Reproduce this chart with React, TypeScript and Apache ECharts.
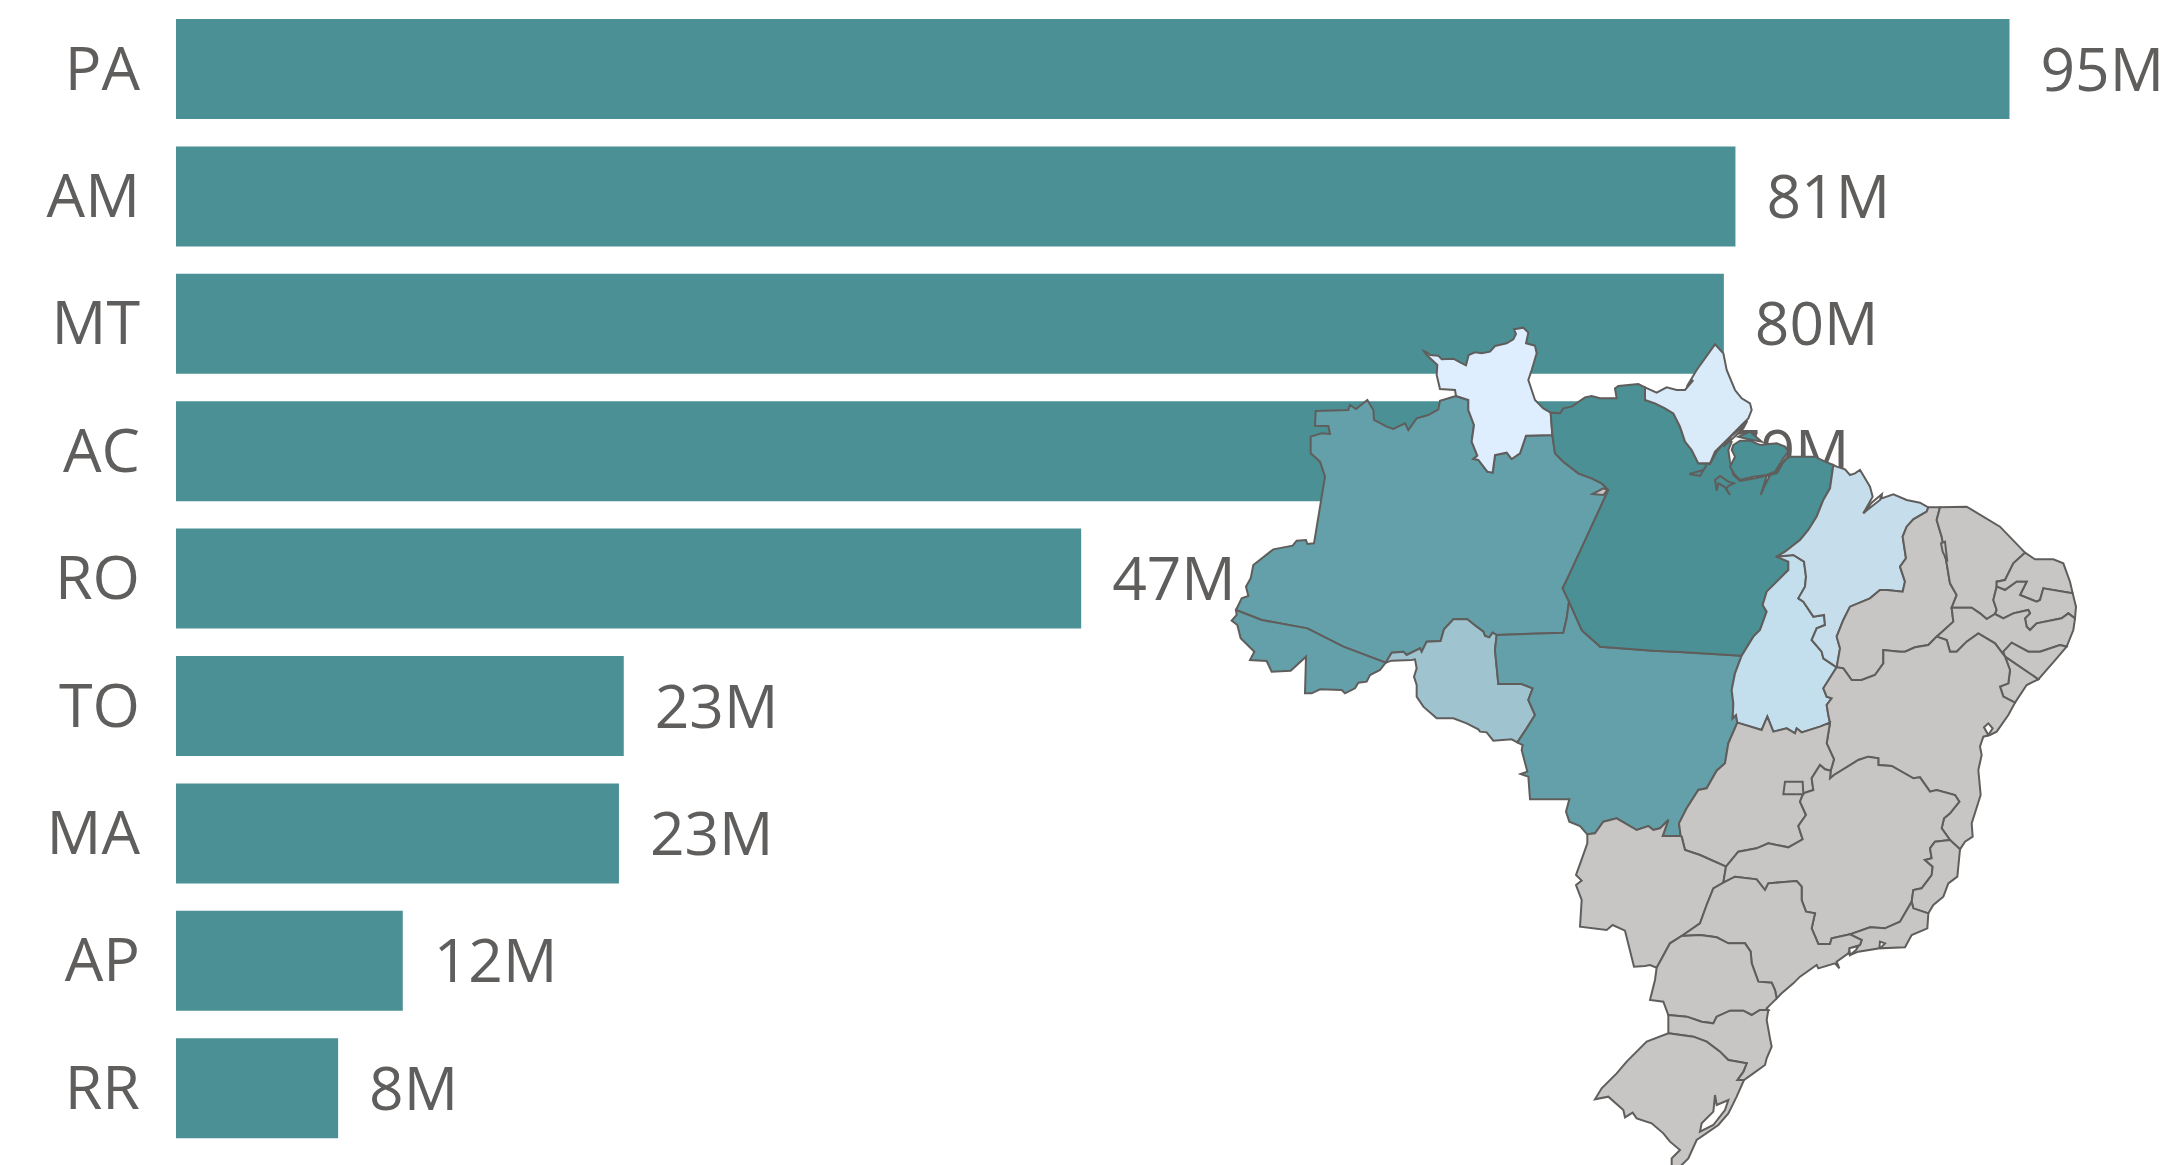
import React, { useEffect, useRef } from "react";
import * as echarts from "echarts";

const categories = ["PA", "AM", "MT", "AC", "RO", "TO", "MA", "AP", "RR"];
const values = [95, 80.8, 80.2, 78.7, 46.9, 23.2, 22.95, 11.75, 8.4];
const stateColors: Record<string, string> = {
  PA: "#4A9095", AM: "#64A0A9", MT: "#64A0A9", AC: "#64A0A9", RO: "#9FC3CF",
  TO: "#C3DFEE", MA: "#C6DEEC", AP: "#D9EAF9", RR: "#DEEEFF",
};
const TEXT = "#605E5C";
const BAR = "#4A9095";
const GREY = "#C8C6C4";
const FONT = "'Open Sans'";

type Pt = [number, number];
// Traced outlines; each run of points is in the coordinates of one crop of the picture.
const F1: Pt = [1220, 310], F2: Pt = [1680, 310], F3: Pt = [1480, 700], F5: Pt = [1800, 640], F6: Pt = [1660, 400];
const p = (f: Pt, s: string): Pt[] =>
  s.trim().split(/\s+/).map((q) => {
    const [x, y] = q.split(",").map(Number);
    return [f[0] + x / 3, f[1] + y / 3] as Pt;
  });

const arcs: Record<string, Pt[]> = {
  rrN: p(F1, "708,258 705,240 660,237 650,195 652,165 620,135 612,124 622,128 630,135 655,137 665,148 700,146 722,158 738,166 746,135 765,127 785,130 810,125 825,108 860,100 880,88 888,72 882,58 910,53 925,68 918,100 945,107 950,130 935,180 925,210 935,240 945,270 970,295 992,308"),
  rrPa: p(F1, "992,308 997,375"),
  rrAm: p(F1, "997,375 918,377 900,430 875,447 860,428 825,435 818,488 802,485 775,450 760,447 772,437 755,395 762,345 745,300 745,270 708,258"),
  amNW: p(F1, "708,258 660,272 655,298 625,315 590,325 565,360 555,340 520,357 500,350 462,330 460,300 442,270 408,297 390,285 385,300 287,303 285,347 325,348 330,372 305,370 272,380 272,430 300,455 315,500 282,700 262,702 258,690 230,692 218,707 160,718 100,765 92,805 78,830 85,858 65,865 48,900"),
  amAc: p(F1, "48,900 125,930 262,955 370,1010 497,1058"),
  acOut: p(F1, "48,900 50,915 35,932 52,945 62,985 103,1025 90,1050 140,1053 155,1085 212,1082 258,1040 255,1150 275,1150 300,1138 365,1140 375,1150 405,1135 415,1118 440,1115 450,1095 480,1080 497,1058"),
  amRo: p(F1, "497,1058 515,1028 550,1025 560,1035 600,1015 605,1025 620,995 662,993 672,958 700,928 742,928 770,950 790,965 795,978 808,982 818,968 830,975"),
  amMt: p(F1, "830,975 1030,968 1040,925 1047,875"),
  amPa: p(F1, "1047,875 1028,835 1045,800 1165,540 1145,520 1115,505 1075,490 1030,455 1005,430 997,375"),
  roMt: [...p(F1, "830,975 825,1020 835,1122 905,1122 938,1135 925,1170 945,1215 918,1258"), ...p(F3, "112,127")],
  roS: [...p(F1, "497,1058 515,1052 575,1050 585,1048 590,1075 582,1100 590,1125 590,1160 610,1190 650,1225 700,1225 740,1240 775,1258"), ...p(F3, "0,95 20,97 40,122 95,118 112,127")],
  paMt: [...p(F1, "1047,875 1085,960 1090,965 1135,1005 1140,1010 1300,1022"), ...p(F2, "0,1026 185,1037")],
  mtTo: [...p(F2, "185,1037 165,1090 155,1140 160,1180 158,1225"), ...p(F3, "768,45 772,68")],
  mtGo: p(F3, "772,68 745,130 735,190 710,212 680,265 655,270 620,325 597,370 602,408"),
  mtMs: p(F3, "602,408 548,408 565,360 540,385 520,390 505,378 470,390 410,355 370,365 345,400 322,403"),
  mtW: p(F3, "322,403 300,378 268,365 258,335 268,298 150,298 145,230 122,222 142,215 125,150 128,135 112,127"),
  msOut: p(F3, "322,403 322,430 305,478 288,525 305,542 288,555 305,600 300,680 380,690 398,675 435,692 462,800 495,798 510,795 530,803"),
  msPr: p(F3, "530,803 548,770 570,730 605,708"),
  msSp: p(F3, "605,708 660,670 680,615 700,565 730,548"),
  msMg: p(F3, "730,548 738,500"),
  msGo: p(F3, "738,500 660,465 615,450 605,410 602,408"),
  goMg: p(F3, "738,500 775,455 830,445 865,430 925,442 968,418 955,378 978,345 960,305 970,280 1000,270 995,235 1020,195 1035,208 1052,212"),
  goBa: p(F3, "1052,212 1062,178 1040,130 1050,68"),
  goTo: p(F3, "1050,68 1020,80 965,97 950,85 945,100 920,85 880,95 862,50 845,90 772,68"),
  mgBa: [...p(F3, "1052,212 1050,235 1062,225 1135,180 1165,170 1195,175 1195,195 1235,198 1300,235 1320,232 1350,275 1370,270 1425,285"), ...p(F5, "478,485 450,520 432,535 425,565 450,600")],
  mgEs: p(F5, "450,600 405,605 390,625 395,655 375,660 398,680 395,705 365,745 340,750 335,785"),
  mgRj: p(F5, "335,785 300,845 255,865 210,862 150,883"),
  mgSp: [...p(F3, "730,548 765,530 830,538 855,570 865,550 950,543 965,560 965,600 978,635 1005,640 995,685 1015,732 1050,732 1055,715"), ...p(F5, "150,883")],
  esRj: p(F5, "335,785 340,805 385,820"),
  esBa: p(F5, "450,600 480,628"),
  esCoast: p(F5, "480,628 472,710 445,730 430,770 400,795 385,820"),
  rjCoast: p(F5, "385,820 382,865 335,885 315,922 240,925 255,910 240,905 238,925 175,935 150,945 145,940"),
  spRj: p(F5, "150,883 185,900 180,915 150,925 145,940"),
  spCoast: [...p(F5, "145,940 110,965 118,985 105,970 55,985 50,975 0,1010"), ...p(F3, "940,850 905,880 890,895")],
  spPr: p(F3, "605,708 660,705 710,712 745,730 795,730 812,755 815,790 835,845 875,848 885,870 890,895"),
  prCoast: p(F3, "890,895 875,910 860,925 865,930"),
  prSc: p(F3, "865,930 840,930 815,945 790,932 750,932 710,950 700,970 665,965 620,950 565,945"),
  prW: p(F3, "565,945 550,905 510,900 525,840 530,803"),
  scW: p(F3, "565,945 565,1000"),
  scRs: p(F3, "565,1000 640,1010 680,1025 720,1055 745,1080 800,1090 790,1115 772,1140 792,1140"),
  scCoast: p(F3, "792,1140 820,1120 855,1095 860,1075 875,1040 870,1015 860,960 865,930"),
  rsOut: p(F3, "792,1140 770,1190 745,1240 715,1275 650,1320 625,1375 600,1400 575,1400 575,1375 600,1350 570,1325 550,1300 515,1270 470,1255 458,1238 435,1252 430,1230 385,1190 345,1198 365,1165 410,1120 440,1085 500,1025 565,1000"),
  toMa: p(F2, "290,740 340,735 372,755 378,800 375,830 355,865 370,875 400,920 432,915 435,945 410,955 395,990 425,1025 430,1045 470,1072"),
  toBa: p(F2, "470,1072 430,1135 440,1160 455,1165 440,1185 445,1215 450,1238"),
  toPa: p(F2, "290,740 325,755 325,780 300,805 260,845 248,885 260,905 240,960 220,980 185,1037"),
  paMa: p(F2, "290,740 315,725 360,690 385,660 410,620 430,570 450,535 460,465"),
  maCoast: p(F2, "460,465 470,470 495,478 510,495 525,490 540,480 555,505 570,530 578,560 550,610 575,580 605,555 605,565 640,553 680,570 720,578 745,592"),
  maPi: p(F2, "745,592 740,605 700,628 680,650 668,680 678,745 660,770 675,815 668,845 620,840 600,840 570,865 510,890 490,930 470,980 480,1015 470,1072"),
  piCoast: p(F2, "745,592 780,592"),
  piCe: p(F2, "780,592 770,630 785,680 800,760 810,820 830,855 815,893"),
  piPe: p(F2, "815,893 820,935 770,980"),
  piBa: p(F2, "470,1072 490,1075 515,1110 545,1110 585,1095 610,1060 610,1020 660,1025 675,1025 705,1012 745,1005 770,980"),
  peBa: p(F2, "770,980 800,990 810,1025 830,1025 860,995 895,970 945,1000 975,1040"),
  peCe: p(F2, "815,893 875,893 900,910 920,927 945,912"),
  pePb: p(F2, "945,912 970,925 1000,910 1045,900 1050,910 1035,925 1040,950 1050,960 1070,940 1145,925 1165,910 1185,925"),
  peCoast: p(F2, "1185,925 1180,960 1160,1010"),
  peAl: p(F2, "1160,1010 1140,1005 1080,1025 1045,1025 995,998 970,1025 975,1040"),
  alCoast: p(F2, "1160,1010 1130,1045 1075,1108"),
  alSe: p(F2, "975,1040 1075,1108"),
  seCoast: p(F2, "1075,1108 1040,1125 1005,1178"),
  seBa: p(F2, "975,1040 990,1080 985,1120 960,1130 970,1160 1005,1178"),
  ceCoast: p(F2, "780,592 860,590 960,650 1035,728"),
  ceRn: p(F2, "1035,728 1000,760 975,810 950,815 950,830"),
  cePb: p(F2, "950,830 940,870 950,900 945,912"),
  rnCoast: p(F2, "1035,728 1065,748 1120,748 1150,760 1170,815 1178,850"),
  rnPb: p(F2, "1178,850 1090,835 1080,870 1070,875 1020,855 1040,815 1010,815 975,840 950,830"),
  pbCoast: p(F2, "1178,850 1188,890 1185,925"),
  baCoast: [...p(F2, "1005,1178"), ...p(F5, "625,225 590,275 570,285 550,290 540,320 545,345 535,390 542,465 515,550 518,590 495,605 480,628")],
  paNorth: p(F1, "992,308 1020,310 1030,295 1055,290 1095,262 1115,258 1140,265 1190,265 1185,235 1195,228 1255,222 1275,232"),
  apPa: [...p(F1, "1275,232 1275,270 1305,280 1335,295 1360,310 1380,350 1395,395"), ...p(F6, "95,150 115,190")],
  apN: [...p(F1, "1275,232 1310,248 1340,232 1370,240 1395,240 1420,210"), ...p(F2, "20,230 50,180 105,103 130,130 140,180 165,240 185,265 210,280 215,300 205,325 185,345"), ...p(F6, "205,115 165,155 150,190 115,190")],
  paCoast: [...p(F6, "115,190 150,192 170,155 205,115 215,125 205,150 210,185 220,225 240,243 285,235 340,222 375,180 390,170 430,170 465,170 495,185"), ...p(F2, "460,465")],
};

const ring = (...names: string[]): Pt[] =>
  names.flatMap((n) => (n[0] === "-" ? [...arcs[n.slice(1)]].reverse() : arcs[n]));

const stateRings: Record<string, Pt[]> = {
  AM: ring("amNW", "amAc", "amRo", "amMt", "amPa", "rrAm"),
  RR: ring("rrN", "rrPa", "rrAm"),
  AC: ring("acOut", "-amAc"),
  RO: ring("amRo", "roMt", "-roS"),
  MT: ring("amMt", "paMt", "mtTo", "mtGo", "mtMs", "mtW", "-roMt"),
  PA: ring("-rrPa", "paNorth", "apPa", "paCoast", "-paMa", "toPa", "-paMt", "amPa"),
  AP: ring("apN", "-apPa"),
  TO: ring("toMa", "toBa", "goTo", "-mtTo", "-toPa"),
  MA: ring("paMa", "maCoast", "maPi", "-toMa"),
  PI: ring("piCoast", "piCe", "piPe", "-piBa", "-maPi"),
  CE: ring("ceCoast", "ceRn", "cePb", "-peCe", "-piCe"),
  RN: ring("rnCoast", "rnPb", "-ceRn"),
  PB: ring("-rnPb", "pbCoast", "-pePb", "-cePb"),
  PE: ring("peCe", "pePb", "peCoast", "peAl", "-peBa", "-piPe"),
  AL: ring("-peAl", "alCoast", "-alSe"),
  SE: ring("alSe", "seCoast", "-seBa"),
  BA: ring("piBa", "peBa", "seBa", "baCoast", "-esBa", "-mgBa", "goBa", "-toBa"),
  GO: ring("goMg", "goBa", "goTo", "mtGo", "-msGo"),
  MS: ring("msOut", "msPr", "msSp", "msMg", "msGo", "mtMs"),
  MG: ring("msMg", "goMg", "mgBa", "mgEs", "mgRj", "-mgSp"),
  ES: ring("esBa", "esCoast", "-esRj", "-mgEs"),
  RJ: ring("esRj", "rjCoast", "-spRj", "-mgRj"),
  SP: ring("msSp", "mgSp", "spRj", "spCoast", "-spPr"),
  PR: ring("msPr", "spPr", "prCoast", "prSc", "prW"),
  SC: ring("-prSc", "-scCoast", "-scRs", "-scW"),
  RS: ring("scRs", "rsOut"),
  DF: p(F3, "915,245 968,245 970,283 910,283"),
  // details drawn over the states: islands, inlets and bays
  Marajo: p(F6, "220,135 240,122 270,122 300,135 350,130 375,140 385,155 370,175 345,215 320,225 280,230 240,240 225,225 210,200 225,170 215,150"),
  IslandN: p(F6, "235,110 270,95 305,125 265,118"),
  SpikeW: p(F6, "88,222 130,210 140,195 120,228"),
  SpikeS: p(F6, "165,240 180,228 205,245 222,250 205,258 198,268 210,285 196,262 175,250 170,272"),
  SlitA: p(F6, "345,222 375,178 388,165 368,190 352,218"),
  SlitB: p(F6, "302,285 320,228 330,225 312,262"),
  SlitC: p(F6, "190,140 215,108 245,82 262,62 250,85 222,112"),
  SlitMa: p(F2, "550,610 575,578 605,553 600,570 572,592"),
  PiStrip: p(F2, "783,700 795,695 802,755 788,725"),
  Sliver: p(F1, "1118,552 1150,535 1162,540 1150,555"),
  Lagoa: p(F3, "705,1185 710,1215 745,1200 735,1230 700,1275 660,1295 665,1270 700,1235"),
  BahiaTS: p(F5, "552,262 565,250 578,265 565,285"),
  Guanabara: p(F5, "148,925 175,918 168,930 150,945"),
};

const overrides: Record<string, string> = {
  Marajo: stateColors.PA, IslandN: stateColors.PA, SpikeW: stateColors.PA, SpikeS: stateColors.PA,
  SlitA: "#FFFFFF", SlitB: "#FFFFFF", SlitC: "#FFFFFF", SlitMa: "#FFFFFF",
  Sliver: GREY, Lagoa: "#FFFFFF", BahiaTS: "#FFFFFF", Guanabara: "#FFFFFF",
};

const geoJSON = {
  type: "FeatureCollection",
  features: Object.entries(stateRings).map(([name, pts]) => ({
    type: "Feature",
    properties: { name },
    geometry: { type: "Polygon", coordinates: [[...pts, pts[0]]] },
  })),
};

const all = Object.values(stateRings).flat();
const xs = all.map((q) => q[0]);
const ys = all.map((q) => q[1]);
const minX = Math.min(...xs), maxX = Math.max(...xs), minY = Math.min(...ys), maxY = Math.max(...ys);

export default function App() {
  const ref = useRef<HTMLDivElement>(null);
  useEffect(() => {
    document.body.style.margin = "0";
    echarts.registerMap("brazil", geoJSON as any);
    const chart = echarts.init(ref.current!, null, { renderer: "svg" });
    chart.setOption({
      animation: false,
      backgroundColor: "#FFFFFF",
      grid: { left: 176, top: 5.3, width: 1930, height: 1146.6, containLabel: false },
      xAxis: { type: "value", min: 0, max: 100, show: false },
      yAxis: {
        type: "category",
        inverse: true,
        data: categories,
        axisLine: { show: false },
        axisTick: { show: false },
        axisLabel: { color: TEXT, fontFamily: FONT, fontSize: 61, margin: 36, verticalAlign: "bottom", lineHeight: 6 },
      },
      series: [
        {
          type: "bar",
          data: values,
          barWidth: 100,
          itemStyle: { color: BAR },
          label: {
            show: true,
            position: "right",
            distance: 31,
            offset: [0, -2],
            color: TEXT,
            fontFamily: FONT,
            fontSize: 60.5,
            formatter: (d: any) => `${Math.round(d.value)}M`,
          },
          silent: true,
        },
        {
          type: "map",
          map: "brazil",
          z: 10,
          silent: true,
          roam: false,
          projection: { project: (q: number[]) => q, unproject: (q: number[]) => q },
          layoutCenter: [(minX + maxX) / 2, (minY + maxY) / 2],
          layoutSize: Math.max(maxX - minX, maxY - minY),
          label: { show: false },
          emphasis: { disabled: true },
          select: { disabled: true },
          itemStyle: { areaColor: GREY, borderColor: TEXT, borderWidth: 2 },
          data: [
            ...categories.map((name, i) => ({
              name,
              value: values[i],
              itemStyle: { areaColor: stateColors[name] },
            })),
            ...Object.entries(overrides).map(([name, c]) => ({
              name,
              itemStyle: { areaColor: c },
            })),
          ],
        },
      ],
    });
    return () => chart.dispose();
  }, []);
  return <div ref={ref} style={{ position: "fixed", left: 0, top: 0, width: 2163, height: 1165 }} />;
}
